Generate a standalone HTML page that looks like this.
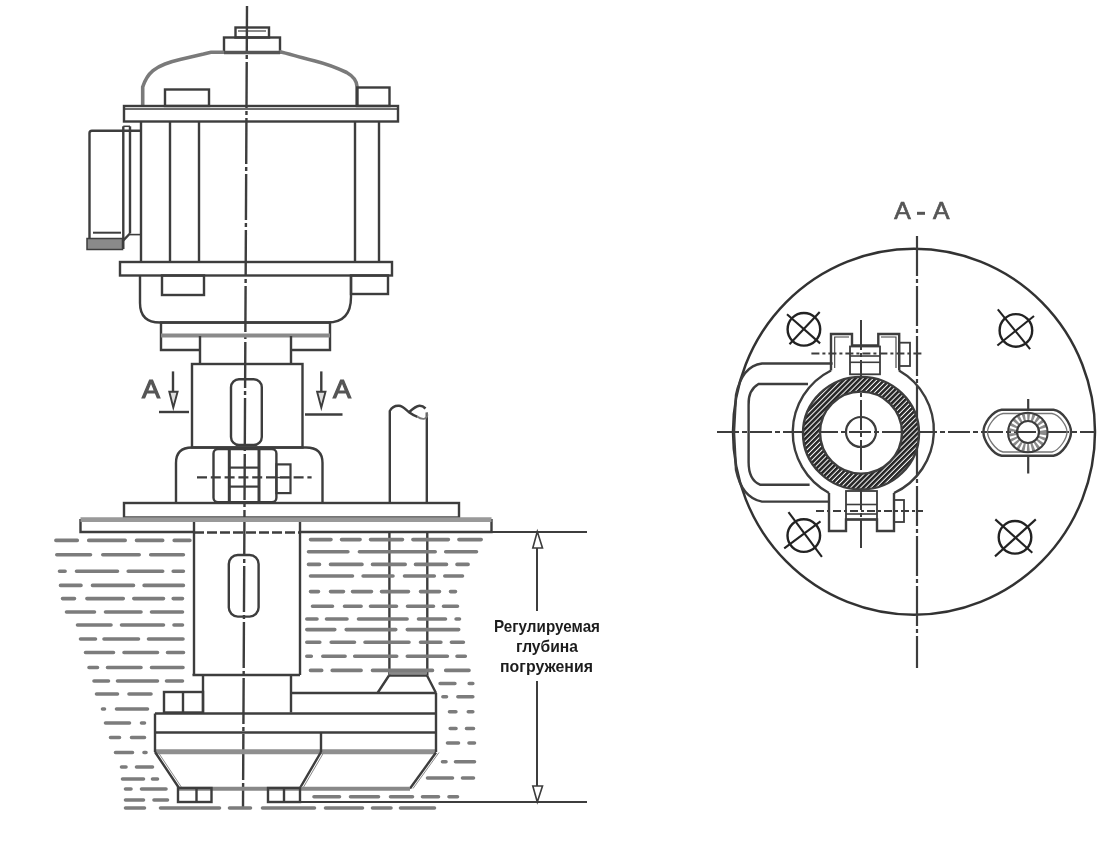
<!DOCTYPE html>
<html><head><meta charset="utf-8"><title>Pump drawing</title>
<style>html,body{margin:0;padding:0;background:#fff;} svg{display:block;will-change:transform;} text{opacity:0.999}</style></head>
<body><svg width="1108" height="844" viewBox="0 0 1108 844" stroke-linecap="butt">
<defs><filter id="soft" filterUnits="userSpaceOnUse" x="0" y="0" width="1108" height="844"><feGaussianBlur stdDeviation="0.45"/></filter></defs>
<rect width="1108" height="844" fill="#fff"/>
<g filter="url(#soft)">
<line x1="247" y1="6" x2="243" y2="808" stroke="#3c3c3c" stroke-width="2.4" stroke-dasharray="46 3 4 3"/>
<rect x="235.5" y="27.5" width="33.5" height="10.0" rx="0" fill="none" stroke="#3c3c3c" stroke-width="2.4" />
<line x1="238" y1="31" x2="266" y2="31" stroke="#3c3c3c" stroke-width="1.2" />
<rect x="224" y="37.5" width="56" height="15.0" rx="0" fill="none" stroke="#3c3c3c" stroke-width="2.4" />
<path d="M142.7,106 L142.7,87 C145,80 149,74 153,70.7 C157,67.5 161,65.5 165,64 C170,62 175,60.5 180,59.4 L203.6,54 C207,53 209,52.5 211,52.2 L224,52.2" fill="none" stroke="#7a7a7a" stroke-width="3.6" />
<path d="M279,51.5 C290,54 300,57.5 315,61 C325,63.5 335,67 346.7,72.5 C352,75.5 357,80 357.1,87 L357.1,106" fill="none" stroke="#7a7a7a" stroke-width="3.6" />
<line x1="224" y1="52.5" x2="280" y2="52.5" stroke="#555" stroke-width="3.4" />
<rect x="165" y="89.5" width="44" height="16.5" rx="0" fill="none" stroke="#3c3c3c" stroke-width="2.4" />
<rect x="357" y="87.5" width="32.5" height="18.5" rx="0" fill="none" stroke="#3c3c3c" stroke-width="2.4" />
<rect x="124" y="106" width="274" height="15.5" rx="0" fill="none" stroke="#3c3c3c" stroke-width="2.4" />
<line x1="124" y1="109" x2="398" y2="109" stroke="#3c3c3c" stroke-width="1.3" />
<line x1="141" y1="121.5" x2="141" y2="262" stroke="#3c3c3c" stroke-width="2.4" />
<line x1="170" y1="121.5" x2="170" y2="262" stroke="#3c3c3c" stroke-width="2.4" />
<line x1="199" y1="121.5" x2="199" y2="262" stroke="#3c3c3c" stroke-width="2.4" />
<line x1="355" y1="121.5" x2="355" y2="262" stroke="#3c3c3c" stroke-width="2.4" />
<line x1="379" y1="121.5" x2="379" y2="262" stroke="#3c3c3c" stroke-width="2.4" />
<path d="M89.5,249 L89.5,133 Q89.5,130.7 92,130.7 L141,130.7" fill="none" stroke="#3c3c3c" stroke-width="2.4" />
<line x1="123.3" y1="126.3" x2="123.3" y2="249" stroke="#3c3c3c" stroke-width="2.4" />
<line x1="130" y1="126.3" x2="130" y2="233.5" stroke="#3c3c3c" stroke-width="2.4" />
<line x1="123.3" y1="126.3" x2="130" y2="126.3" stroke="#3c3c3c" stroke-width="1.5" />
<line x1="93" y1="232.7" x2="121" y2="232.7" stroke="#3c3c3c" stroke-width="2.0" />
<rect x="87" y="238.5" width="35.5" height="11" fill="#8a8a8a" stroke="#3c3c3c" stroke-width="1.5"/>
<path d="M130,233.5 L123.3,240.3" fill="none" stroke="#3c3c3c" stroke-width="2.4" />
<line x1="130" y1="234.6" x2="141" y2="234.6" stroke="#3c3c3c" stroke-width="1.6" />
<rect x="120" y="262" width="272" height="13.5" rx="0" fill="none" stroke="#3c3c3c" stroke-width="2.4" />
<rect x="162" y="275.5" width="42" height="19.5" rx="0" fill="none" stroke="#3c3c3c" stroke-width="2.4" />
<rect x="351" y="275.5" width="37" height="18.5" rx="0" fill="none" stroke="#3c3c3c" stroke-width="2.4" />
<path d="M140,275.5 L140,303 Q140,322.5 160,322.5 L327.5,322.5 Q351,322.5 351,297 L351,275.5" fill="none" stroke="#3c3c3c" stroke-width="2.4" />
<path d="M200,350 L161,350 L161,322.5 L330,322.5 L330,350 L291,350" fill="none" stroke="#3c3c3c" stroke-width="2.4" />
<line x1="161" y1="335.5" x2="330" y2="335.5" stroke="#8a8a8a" stroke-width="4.2" />
<path d="M200,336 L200,364 M291,336 L291,364" fill="none" stroke="#3c3c3c" stroke-width="2.4" />
<rect x="192" y="364" width="110.5" height="83.5" rx="0" fill="none" stroke="#3c3c3c" stroke-width="2.4" />
<rect x="231" y="379.2" width="30.80000000000001" height="65.80000000000001" rx="8" fill="none" stroke="#3c3c3c" stroke-width="2.4" />
<text x="142" y="398" font-family="Liberation Sans, sans-serif" font-size="25" fill="#555" stroke="#555" stroke-width="1.1" textLength="18" lengthAdjust="spacingAndGlyphs">A</text>
<line x1="173" y1="371.4" x2="173" y2="392" stroke="#3c3c3c" stroke-width="2.4" />
<path d="M169.3,391.8 L177.6,391.8 L173.3,407.5 Z" fill="#ddd" stroke="#3c3c3c" stroke-width="1.9" />
<line x1="159" y1="412" x2="189" y2="412" stroke="#3c3c3c" stroke-width="2.4" />
<text x="333" y="398" font-family="Liberation Sans, sans-serif" font-size="25" fill="#555" stroke="#555" stroke-width="1.1" textLength="18" lengthAdjust="spacingAndGlyphs">A</text>
<line x1="321.3" y1="371.4" x2="321.3" y2="392" stroke="#3c3c3c" stroke-width="2.4" />
<path d="M317.1,391.8 L325.5,391.8 L321.3,407.5 Z" fill="#ddd" stroke="#3c3c3c" stroke-width="1.9" />
<line x1="305" y1="414.5" x2="342.5" y2="414.5" stroke="#3c3c3c" stroke-width="2.4" />
<path d="M176,502.5 L176,463 Q176,447.5 192,447.5 L306,447.5 Q322.5,447.5 322.5,463 L322.5,502.5" fill="none" stroke="#3c3c3c" stroke-width="2.4" />
<rect x="213.5" y="449" width="62.89999999999998" height="53.30000000000001" rx="4.5" fill="none" stroke="#3c3c3c" stroke-width="2.4" />
<line x1="229.3" y1="449" x2="229.3" y2="502.3" stroke="#3c3c3c" stroke-width="3.0" />
<line x1="259" y1="449" x2="259" y2="502.3" stroke="#3c3c3c" stroke-width="3.0" />
<line x1="229.3" y1="467.6" x2="259" y2="467.6" stroke="#3c3c3c" stroke-width="2.2" />
<line x1="229.3" y1="486.6" x2="259" y2="486.6" stroke="#3c3c3c" stroke-width="2.2" />
<rect x="276.4" y="464.4" width="14.100000000000023" height="28.700000000000045" rx="0" fill="none" stroke="#3c3c3c" stroke-width="2.2" />
<line x1="276" y1="477.5" x2="290" y2="477.5" stroke="#3c3c3c" stroke-width="1.4" />
<line x1="197" y1="477.4" x2="311.6" y2="477.4" stroke="#3c3c3c" stroke-width="2.4" stroke-dasharray="10 3.8"/>
<rect x="124" y="503" width="335" height="14.5" rx="0" fill="none" stroke="#3c3c3c" stroke-width="2.4" />
<path d="M194,532 L80.5,532 L80.5,519 M491.5,519 L491.5,532 L300,532" fill="none" stroke="#3c3c3c" stroke-width="2.4" />
<line x1="80.5" y1="519.6" x2="491.5" y2="519.6" stroke="#999" stroke-width="4.6" />
<path d="M389.8,503 L389.8,411 C392,407 396,405.6 399,405.8 C403,406 406,410 409,412.3 C412,414.5 415,416 417.5,416.8" fill="none" stroke="#3c3c3c" stroke-width="2.4" />
<path d="M409,412.3 C412,409.5 416,406 419.5,405.8 C422,405.7 424,407 425.5,408.5" fill="none" stroke="#3c3c3c" stroke-width="2.6" />
<line x1="426.8" y1="503" x2="426.8" y2="412.5" stroke="#3c3c3c" stroke-width="2.4" />
<path d="M426.8,413 C428,415.5 427,418.5 424,418.8 C421,419 419,418 417.5,416.8" fill="none" stroke="#777" stroke-width="1.8" />
<line x1="491.5" y1="532" x2="587" y2="532" stroke="#3c3c3c" stroke-width="2.2" />
<line x1="194" y1="522" x2="194" y2="675" stroke="#3c3c3c" stroke-width="2.4" />
<line x1="300" y1="522" x2="300" y2="675" stroke="#3c3c3c" stroke-width="2.4" />
<line x1="194" y1="532.5" x2="300" y2="532.5" stroke="#3c3c3c" stroke-width="2.4" stroke-dasharray="10 3"/>
<rect x="228.8" y="555" width="29.80000000000001" height="61.60000000000002" rx="9" fill="none" stroke="#3c3c3c" stroke-width="2.4" />
<line x1="192.5" y1="675" x2="300" y2="675" stroke="#3c3c3c" stroke-width="2.4" />
<line x1="389.4" y1="532" x2="389.4" y2="675.5" stroke="#3c3c3c" stroke-width="2.4" />
<line x1="427.3" y1="532" x2="427.3" y2="675.5" stroke="#3c3c3c" stroke-width="2.4" />
<line x1="389" y1="675.5" x2="427" y2="675.5" stroke="#3c3c3c" stroke-width="2.4" />
<line x1="389" y1="672" x2="427" y2="672" stroke="#8a8a8a" stroke-width="5" />
<path d="M389,675.5 L377.5,693 M427,675.5 L436,693" fill="none" stroke="#3c3c3c" stroke-width="2.4" />
<line x1="203" y1="675" x2="203" y2="712.5" stroke="#3c3c3c" stroke-width="2.4" />
<line x1="291" y1="675" x2="291" y2="712.5" stroke="#3c3c3c" stroke-width="2.4" />
<rect x="164" y="692" width="39" height="20.5" rx="0" fill="none" stroke="#3c3c3c" stroke-width="2.4" />
<line x1="183" y1="692" x2="183" y2="712.5" stroke="#3c3c3c" stroke-width="2.4" />
<line x1="291" y1="693" x2="436" y2="693" stroke="#3c3c3c" stroke-width="2.4" />
<line x1="155" y1="713.5" x2="436" y2="713.5" stroke="#3c3c3c" stroke-width="2.4" />
<line x1="155" y1="732.5" x2="436" y2="732.5" stroke="#3c3c3c" stroke-width="2.4" />
<line x1="155" y1="751.8" x2="436" y2="751.8" stroke="#8f8f8f" stroke-width="5.0" />
<line x1="155" y1="713.5" x2="155" y2="752" stroke="#3c3c3c" stroke-width="2.4" />
<line x1="436" y1="693" x2="436" y2="752" stroke="#3c3c3c" stroke-width="2.4" />
<line x1="321" y1="732.5" x2="321" y2="752" stroke="#3c3c3c" stroke-width="2.4" />
<path d="M155,752 L179,788 M300,788 L321,752" fill="none" stroke="#3c3c3c" stroke-width="2.4" />
<path d="M436,752.5 L410,788.5" fill="none" stroke="#3c3c3c" stroke-width="2.4" />
<path d="M155,752 L179,788 M300,788 L321,752 M436,752.5 L410,788.5" fill="none" stroke="#888" stroke-width="1.0" transform="translate(3,0)"/>
<line x1="179" y1="788.8" x2="410" y2="788.8" stroke="#888" stroke-width="4.0" />
<rect x="178" y="788" width="33.5" height="14" rx="0" fill="none" stroke="#3c3c3c" stroke-width="2.4" />
<line x1="196.5" y1="788" x2="196.5" y2="802" stroke="#3c3c3c" stroke-width="2.4" />
<rect x="268" y="788" width="32" height="14" rx="0" fill="none" stroke="#3c3c3c" stroke-width="2.4" />
<line x1="284" y1="788" x2="284" y2="802" stroke="#3c3c3c" stroke-width="2.4" />
<line x1="300" y1="802" x2="587" y2="802" stroke="#3c3c3c" stroke-width="2.0" />
<line x1="537" y1="548" x2="537" y2="611" stroke="#3c3c3c" stroke-width="2.0" />
<line x1="537" y1="681" x2="537" y2="786" stroke="#3c3c3c" stroke-width="2.0" />
<path d="M532.8,548 L537.3,531.5 L542.5,548 Z" fill="none" stroke="#3c3c3c" stroke-width="1.6" />
<path d="M532.8,786 L537.3,802 L542.5,786 Z" fill="none" stroke="#3c3c3c" stroke-width="1.6" />
<text font-family="Liberation Sans, sans-serif" font-weight="bold" font-size="16.3" fill="#1e1e1e"><tspan x="494" y="632" textLength="106" lengthAdjust="spacingAndGlyphs">Регулируемая</tspan><tspan x="516" y="652" textLength="62" lengthAdjust="spacingAndGlyphs">глубина</tspan><tspan x="500" y="671.8" textLength="93" lengthAdjust="spacingAndGlyphs">погружения</tspan></text>
<path d="M55.9,540.4H77.3M88.7,540.4H125.2M136.5,540.4H162.7M174.2,540.4H189.9M56.8,554.8H90.5M102.8,554.8H139.2M150.7,554.8H183.4M59.5,571.3H65.1M76.5,571.3H117.5M128.2,571.3H162.7M173.2,571.3H183.4M60.5,585.4H81.0M92.5,585.4H133.5M144.1,585.4H183.4M62.5,598.6H74.5M86.9,598.6H123.3M133.8,598.6H163.5M173.2,598.6H182.5M66.5,612H94.5M105.5,612H141.0M151.5,612H182.5M77.5,625H111.0M121.5,625H163.5M174.0,625H182.5M80.5,639H95.5M104.0,639H138.5M148.5,639H183.0M85.5,652.5H113.5M124.0,652.5H157.5M167.5,652.5H183.5M89.0,667.5H97.5M107.5,667.5H141.0M151.5,667.5H183.0M94.0,681H108.5M117.5,681H157.5M166.5,681H182.5M96.5,694H117.5M129.0,694H151.0M102.5,709H104.5M116.5,709H147.5M105.5,723H129.5M141.5,723H144.5M110.5,737.5H119.5M131.5,737.5H144.5M115.5,752.5H132.5M144.0,752.5H146.0M121.5,767H126.0M136.5,767H152.5M122.5,779H143.5M152.5,779H157.5M125.5,789H131.0M141.5,789H166.0M125.5,800H143.5M154.0,800H167.5M125.5,808H144.5M160.5,808H219.5M229.5,808H250.5M262.5,808H314.5M325.5,808H362.5M372.5,808H391.0M400.5,808H434.5M310.5,539.6H331.0M341.5,539.6H360.1M370.5,539.6H402.5M412.9,539.6H448.4M458.9,539.6H481.2M308.5,551.7H347.9M359.4,551.7H435.2M445.7,551.7H476.5M308.5,564.4H319.5M330.5,564.4H362.0M372.5,564.4H405.2M415.5,564.4H446.5M457.0,564.4H468.1M310.5,576H352.5M363.1,576H393.0M404.5,576H434.3M444.8,576H462.5M310.5,591.6H318.5M330.5,591.6H343.5M352.5,591.6H371.5M381.5,591.6H408.5M420.5,591.6H439.5M450.5,591.6H455.5M312.5,606.3H332.5M344.5,606.3H361.1M370.5,606.3H396.5M407.5,606.3H433.5M443.5,606.3H457.5M306.8,619H317.0M326.5,619H347.0M358.5,619H407.1M418.5,619H445.5M456.1,619H459.5M306.8,629.6H334.8M346.2,629.6H395.8M407.3,629.6H458.7M306.8,642.2H319.8M331.2,642.2H354.5M365.0,642.2H409.0M420.5,642.2H440.9M451.4,642.2H463.4M306.8,656.3H311.3M322.8,656.3H345.1M354.7,656.3H396.7M407.3,656.3H447.4M457.0,656.3H465.3M310.5,670.4H321.7M332.2,670.4H361.1M372.5,670.4H432.5M445.7,670.4H469.0M440.1,683.5H454.9M469.2,683.5H472.8M442.9,696.7H446.5M457.9,696.7H472.8M449.5,711.7H455.9M468.3,711.7H472.8M450.2,728.5H456.0M466.5,728.5H473.5M447.5,743H458.5M469.0,743H474.5M442.5,761.75H446.0M455.5,761.75H474.5M427.5,778H452.5M462.5,778H473.5M314.0,796.75H339.5M350.5,796.75H378.5M390.5,796.75H412.5M422.5,796.75H438.5M449.0,796.75H457.5" stroke="#7c7c7c" stroke-width="3.6" stroke-linecap="round" fill="none"/>
<g font-family="Liberation Sans, sans-serif" font-size="23" fill="#555" stroke="#555" stroke-width="0.7"><text x="894.2" y="218.6" textLength="16.5" lengthAdjust="spacingAndGlyphs">A</text><text x="933" y="218.6" textLength="16.5" lengthAdjust="spacingAndGlyphs">A</text></g>
<rect x="917" y="211.8" width="8" height="3" fill="#555"/>
<ellipse cx="914" cy="431.8" rx="181" ry="183" fill="none" stroke="#333" stroke-width="2.5"/>
<line x1="917" y1="236" x2="917" y2="668" stroke="#3c3c3c" stroke-width="2.2" stroke-dasharray="40 3 4 3"/>
<line x1="717" y1="432" x2="1095" y2="432" stroke="#3c3c3c" stroke-width="2.2" stroke-dasharray="22 3 5 3"/>
<line x1="861" y1="320" x2="861" y2="548" stroke="#3c3c3c" stroke-width="2.0" stroke-dasharray="30 3 4 3"/>
<circle cx="803.9" cy="329.3" r="16.3" fill="none" stroke="#222" stroke-width="2.4"/>
<line x1="787.0" y1="314.3" x2="820.1" y2="343.40000000000003" stroke="#222" stroke-width="2.1" />
<line x1="819.6999999999999" y1="312.0" x2="789.5" y2="344.3" stroke="#222" stroke-width="2.1" />
<circle cx="1015.9" cy="330.4" r="16.3" fill="none" stroke="#222" stroke-width="2.4"/>
<line x1="997.8" y1="309.4" x2="1030.1" y2="349.2" stroke="#222" stroke-width="2.1" />
<line x1="1034.0" y1="316.0" x2="997.4" y2="345.5" stroke="#222" stroke-width="2.1" />
<circle cx="803.8" cy="535.6" r="16.3" fill="none" stroke="#222" stroke-width="2.4"/>
<line x1="788.5" y1="512.1" x2="821.9" y2="556.9" stroke="#222" stroke-width="2.1" />
<line x1="820.5" y1="521.3000000000001" x2="784.1999999999999" y2="548.4" stroke="#222" stroke-width="2.1" />
<circle cx="1015" cy="537.3" r="16.3" fill="none" stroke="#222" stroke-width="2.4"/>
<line x1="995.3" y1="519.4" x2="1032.3" y2="552.8" stroke="#222" stroke-width="2.1" />
<line x1="1035.8" y1="519.4" x2="995" y2="556.4" stroke="#222" stroke-width="2.1" />
<defs><pattern id="h" patternUnits="userSpaceOnUse" width="3.6" height="5" patternTransform="rotate(45)"><rect width="3.6" height="5" fill="#fff"/><rect width="2.6" height="5" fill="#262626"/></pattern></defs>
<path d="M803,433.2 A58,56.3 0 1,0 919,433.2 A58,56.3 0 1,0 803,433.2 Z M820,432.6 A41,41 0 1,1 902,432.6 A41,41 0 1,1 820,432.6 Z" fill="url(#h)" fill-rule="evenodd" stroke="#3c3c3c" stroke-width="2.4"/>
<circle cx="861" cy="432" r="15" fill="none" stroke="#3c3c3c" stroke-width="2.2"/>
<path d="M831,370.5 A69,69 0 0,0 829,493" fill="none" stroke="#3c3c3c" stroke-width="2.4" />
<path d="M899,370.5 A69,69 0 0,1 894,493" fill="none" stroke="#3c3c3c" stroke-width="2.4" />
<path d="M831,370.5 L831,334 L852,334 L852,345.5 L878.3,345.5 L878.3,334 L899.2,334 L899.2,370.5" fill="none" stroke="#3c3c3c" stroke-width="2.4" />
<path d="M834.7,368 L834.7,337 L849,337 M881,337 L896,337 L896,368" fill="none" stroke="#3c3c3c" stroke-width="1.1" />
<rect x="850" y="346.5" width="30" height="27.80000000000001" rx="0" fill="none" stroke="#3c3c3c" stroke-width="1.8" />
<line x1="850" y1="356" x2="880" y2="356" stroke="#3c3c3c" stroke-width="1.6" />
<line x1="850" y1="362.3" x2="880" y2="362.3" stroke="#3c3c3c" stroke-width="1.6" />
<rect x="899.2" y="342.7" width="10.799999999999955" height="23.30000000000001" rx="0" fill="none" stroke="#3c3c3c" stroke-width="1.8" />
<line x1="811.4" y1="353.5" x2="923.8" y2="353.5" stroke="#3c3c3c" stroke-width="2.0" stroke-dasharray="8 3 3 3"/>
<path d="M829,493 L829,531 L846,531 L846,519.5 L877,519.5 L877,531 L894,531 L894,493" fill="none" stroke="#3c3c3c" stroke-width="2.4" />
<rect x="846" y="491" width="31" height="28.5" rx="0" fill="none" stroke="#3c3c3c" stroke-width="1.8" />
<line x1="846" y1="504.5" x2="877" y2="504.5" stroke="#3c3c3c" stroke-width="1.6" />
<line x1="846" y1="514" x2="877" y2="514" stroke="#3c3c3c" stroke-width="1.6" />
<rect x="894" y="500" width="10" height="22" rx="0" fill="none" stroke="#3c3c3c" stroke-width="1.8" />
<line x1="816" y1="511" x2="923" y2="511" stroke="#3c3c3c" stroke-width="2.0" stroke-dasharray="8 3 3 3"/>
<path d="M832.6,363.5 L762,363.5 Q742,366 736,395 L734,432 L736,470 Q742,498 762,501.6 L829.5,501.6" fill="none" stroke="#3c3c3c" stroke-width="2.4" />
<path d="M808,384 L758.5,384 Q748,390 748.6,405 L748.6,462 Q748.6,480 760,484.7 L809.6,484.7" fill="none" stroke="#3c3c3c" stroke-width="2.4" />
<path d="M1001.7,409.7 L1053.5,409.7 C1063,411 1071,424 1071,432 C1071,440 1063,454 1053.5,455.8 L1001.7,455.8 C992,454 983.4,440 983.4,432 C983.4,424 992,411 1001.7,409.7 Z" fill="none" stroke="#3c3c3c" stroke-width="2.4" />
<path d="M1003,413.5 L1052,413.5 C1060,415 1067,426 1067,432 C1067,438 1060,450 1052,452 L1003,452 C995,450 987.5,438 987.5,432 C987.5,426 995,415 1003,413.5 Z" fill="none" stroke="#777" stroke-width="1.3" />
<circle cx="1027.8" cy="432.5" r="15.5" fill="none" stroke="#8a8a8a" stroke-width="8" stroke-dasharray="2.5 2"/>
<circle cx="1027.8" cy="432.5" r="19.8" fill="none" stroke="#3c3c3c" stroke-width="2"/>
<circle cx="1028" cy="432" r="11" fill="none" stroke="#3c3c3c" stroke-width="2.2"/>
<line x1="1028.2" y1="399" x2="1028.2" y2="410" stroke="#3c3c3c" stroke-width="2.2" />
<line x1="1028.2" y1="455.8" x2="1028.2" y2="473.5" stroke="#3c3c3c" stroke-width="2.2" />
</g>
</svg></body></html>
